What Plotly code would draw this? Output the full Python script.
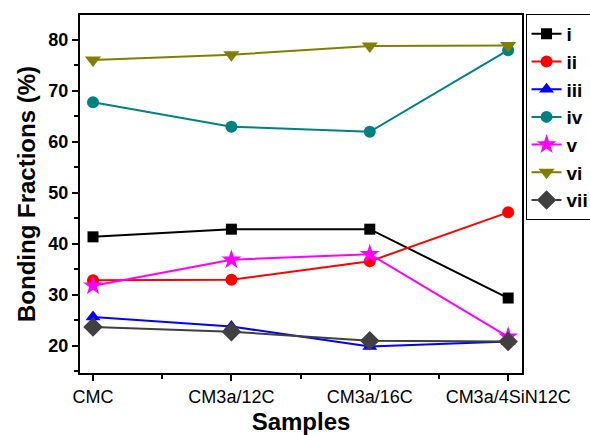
import plotly.graph_objects as go

# Samples on the x axis
samples = ["CMC", "CM3a/12C", "CM3a/16C", "CM3a/4SiN12C"]

# Bonding fractions (%) per component
frac_i = [41.4, 42.9, 42.9, 29.4]
frac_ii = [32.9, 33.0, 36.6, 46.2]
frac_iii = [25.7, 23.8, 19.9, 20.9]
frac_iv = [67.8, 63.0, 62.0, 78.0]
frac_v = [31.8, 36.9, 38.0, 21.8]
frac_vi = [76.1, 77.1, 78.8, 78.9]
frac_vii = [23.7, 22.8, 21.0, 20.9]

series = [
    ("i", frac_i, "#000000", "square", 11),
    ("ii", frac_ii, "#FF0000", "circle", 12),
    ("iii", frac_iii, "#0000FF", "triangle-up", 13),
    ("iv", frac_iv, "#008080", "circle", 12),
    ("v", frac_v, "#FF00FF", "star", 15),
    ("vi", frac_vi, "#808000", "triangle-down", 14),
    ("vii", frac_vii, "#404040", "diamond", 15),
]

x_pos = list(range(len(samples)))

fig = go.Figure()
for name, vals, color, symbol, size in series:
    fig.add_trace(go.Scatter(
        x=x_pos, y=vals, name=name, mode="lines+markers",
        line=dict(color=color, width=2),
        marker=dict(color=color, symbol=symbol, size=size, line=dict(width=0)),
    ))

font_main = "Liberation Sans, Arial, sans-serif"

fig.update_layout(
    width=590, height=435,
    margin=dict(l=80, r=68, t=15, b=62, autoexpand=False),
    paper_bgcolor="white", plot_bgcolor="white",
    font=dict(family=font_main, color="black"),
    legend=dict(
        x=1.008, y=1.003, xanchor="left", yanchor="top",
        bordercolor="black", borderwidth=1, bgcolor="white",
        font=dict(family=font_main, size=19, color="black", weight="bold"),
        itemwidth=30, tracegroupgap=0,
    ),
    showlegend=True,
)

fig.update_xaxes(
    range=[-0.094, 3.1],
    tickmode="array", tickvals=x_pos, ticktext=samples,
    ticks="outside", ticklen=6, tickwidth=1.5, tickcolor="black",
    minor=dict(tickmode="array", tickvals=[0.5, 1.5, 2.5], ticks="outside",
               ticklen=4, tickwidth=1.5, tickcolor="black"),
    showline=True, linecolor="black", linewidth=2, mirror=True,
    showgrid=False, zeroline=False,
    tickfont=dict(family=font_main, size=18, color="black"),
    title=dict(text="Samples", font=dict(family=font_main, size=24, color="black", weight="bold"),
               standoff=9),
)

fig.update_yaxes(
    range=[14.7, 84.9],
    tickmode="array", tickvals=[20, 30, 40, 50, 60, 70, 80],
    ticks="outside", ticklen=6, tickwidth=1.5, tickcolor="black",
    minor=dict(tickmode="array", tickvals=[15, 25, 35, 45, 55, 65, 75], ticks="outside",
               ticklen=4, tickwidth=1.5, tickcolor="black"),
    showline=True, linecolor="black", linewidth=2, mirror=True,
    showgrid=False, zeroline=False,
    tickfont=dict(family=font_main, size=18, color="black", weight="bold"),
    title=dict(text="Bonding Fractions (%)",
               font=dict(family=font_main, size=24, color="black", weight="bold"),
               standoff=6),
)

fig.write_html("out.html")
